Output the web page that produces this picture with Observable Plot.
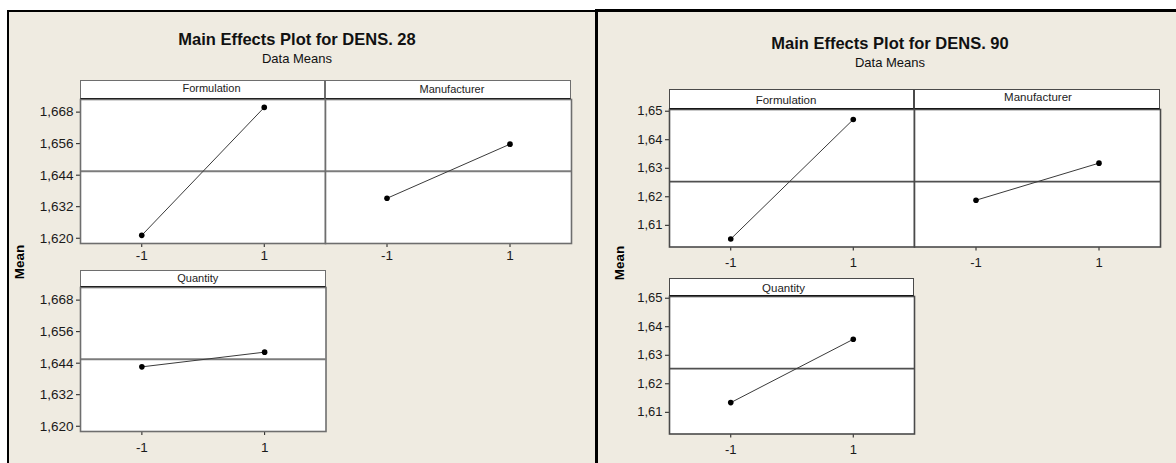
<!DOCTYPE html>
<html><head><meta charset="utf-8">
<script src="https://cdn.jsdelivr.net/npm/d3@7"></script>
<script src="https://cdn.jsdelivr.net/npm/@observablehq/plot@0.6"></script>
<style>
html,body{margin:0;padding:0;background:#fff;}
#root{position:relative;width:1176px;height:463px;overflow:hidden;background:#fff;font-family:"Liberation Sans",Arial,sans-serif;}
.frame{position:absolute;background:#EFEBE1;border-style:solid;border-color:#000;box-sizing:border-box;}
.title{position:absolute;font-weight:bold;font-size:16.5px;line-height:1;color:#111;white-space:nowrap;transform:translateX(-50%);}
.sub{position:absolute;font-size:13px;line-height:1;color:#111;white-space:nowrap;transform:translateX(-50%);}
.strip{position:absolute;background:#fff;box-sizing:border-box;color:#222;display:flex;align-items:center;justify-content:center;line-height:1;}
.ylab{position:absolute;font-weight:bold;font-size:13.5px;line-height:1;color:#000;white-space:nowrap;transform:translate(-50%,-50%) rotate(-90deg);}
</style></head><body><div id="root"></div>
<script>
// ---- data ----
const levels = [-1, 1];
const factors = ["Formulation", "Manufacturer", "Quantity"];

const dens28Formulation = [1.6211, 1.6698];
const dens28Manufacturer = [1.6352, 1.6558];
const dens28Quantity = [1.6426, 1.6482];
const dens28GrandMean = 1.6455;
const dens28Ticks = [1.620, 1.632, 1.644, 1.656, 1.668];

const dens90Formulation = [1.6052, 1.6471];
const dens90Manufacturer = [1.6188, 1.6318];
const dens90Quantity = [1.6134, 1.6356];
const dens90GrandMean = 1.6253;
const dens90Ticks = [1.61, 1.62, 1.63, 1.64, 1.65];

const titles = ["Main Effects Plot for DENS. 28", "Main Effects Plot for DENS. 90"];
const subtitle = "Data Means";
const yLabel = "Mean";

// ---- helpers ----
const root = document.getElementById("root");
function div(cls, css, text) {
  const d = document.createElement("div");
  d.className = cls;
  Object.assign(d.style, css);
  if (text != null) d.textContent = text;
  root.appendChild(d);
  return d;
}
const comma = (n) => (v) => d3.format("." + n + "f")(v).replace(".", ",");

function panel(o) {
  const mL = o.yAxis ? 70 : 2, mR = 2, mT = 1, mB = 34;
  const data = levels.map((l, i) => ({level: l, mean: o.values[i]}));
  // strip
  const s = div("strip", {
    left: o.left + "px", top: o.stripTop + "px", width: o.w + "px", height: (o.top - o.stripTop) + "px",
    borderTop: `1.5px solid ${o.frameColor}`, borderLeft: `1.5px solid ${o.frameColor}`,
    borderRight: `1.5px solid ${o.frameColor}`, borderBottom: "1px solid #000",
    fontSize: o.stripFont + "px"
  });
  const sp = document.createElement("span");
  sp.textContent = o.name;
  sp.style.transform = `translate(${o.sx}px, ${o.sy}px)`;
  s.appendChild(sp);
  const p = Plot.plot({
    width: o.w + mL + mR, height: o.h + mT + mB,
    marginLeft: mL, marginRight: mR, marginTop: mT, marginBottom: mB,
    style: {background: "transparent", overflow: "visible", fontFamily: '"Liberation Sans", Arial, sans-serif', fontSize: o.tickFont + "px", color: "#1a1a1a"},
    x: {domain: [-2, 2], ticks: levels, tickFormat: d => String(d), tickSize: 4, tickPadding: o.xPad, label: null},
    y: {domain: o.yDomain, ticks: o.yTicks, tickFormat: o.yFmt, tickSize: 4, tickPadding: 3, label: null, axis: o.yAxis ? "left" : null},
    marks: [
      Plot.frame({fill: "#fff"}),
      Plot.ruleY([o.mean], {stroke: o.refColor, strokeWidth: o.refWidth}),
      Plot.line(data, {x: "level", y: "mean", stroke: "#3a3a3a", strokeWidth: 1}),
      Plot.dot(data, {x: "level", y: "mean", r: 2.8, fill: "#000", stroke: "none"}),
      Plot.frame({stroke: o.frameColor, strokeWidth: 1.6})
    ]
  });
  p.style.position = "absolute";
  p.style.left = (o.left - mL) + "px";
  p.style.top = (o.top - mT) + "px";
  root.appendChild(p);
}

// ---- frames ----
div("frame", {left: "7px", top: "10px", width: "590px", height: "520px", borderWidth: "2px"});
div("frame", {left: "595px", top: "9px", width: "620px", height: "520px", borderWidth: "3px"});

// ---- chart A (DENS. 28) ----
div("title", {left: "297px", top: "30.5px"}, titles[0]);
div("sub", {left: "297px", top: "52px"}, subtitle);
div("ylab", {left: "20px", top: "262px"}, yLabel);
const A = {yDomain: [1.618, 1.6728], yTicks: dens28Ticks, yFmt: comma(3), mean: dens28GrandMean,
  frameColor: "#6e6e6e", refColor: "#7c7c7c", refWidth: 2, stripFont: 11, tickFont: 13.5, h: 144};
panel({...A, name: factors[0], values: dens28Formulation, left: 80, w: 245, stripTop: 80, top: 99, yAxis: true, xPad: 3, sx: 9, sy: -1});
panel({...A, name: factors[1], values: dens28Manufacturer, left: 325, w: 246, stripTop: 80, top: 99, yAxis: false, xPad: 3, sx: 4, sy: 0});
panel({...A, name: factors[2], values: dens28Quantity, left: 80, w: 245.5, stripTop: 269.5, top: 287, yAxis: true, xPad: 7, sx: -5, sy: 0});

// ---- chart B (DENS. 90) ----
div("title", {left: "890px", top: "34.5px"}, titles[1]);
div("sub", {left: "890px", top: "56px"}, subtitle);
div("ylab", {left: "620px", top: "263px"}, yLabel);
const B = {yDomain: [1.6024, 1.6506], yTicks: dens90Ticks, yFmt: comma(2), mean: dens90GrandMean,
  frameColor: "#4a4a4a", refColor: "#505050", refWidth: 1.6, stripFont: 11.5, tickFont: 13, h: 137.5, xPad: 7};
panel({...B, name: factors[0], values: dens90Formulation, left: 668.5, w: 245, stripTop: 88.5, top: 108.5, yAxis: true, sx: -5, sy: 1.5});
panel({...B, name: factors[1], values: dens90Manufacturer, left: 913.5, w: 246, stripTop: 88.5, top: 108.5, yAxis: false, sx: 1.5, sy: -1});
panel({...B, name: factors[2], values: dens90Quantity, left: 668.5, w: 245, stripTop: 277.5, top: 295.5, yAxis: true, sx: -7.5, sy: 1.5});
</script>
</body></html>
